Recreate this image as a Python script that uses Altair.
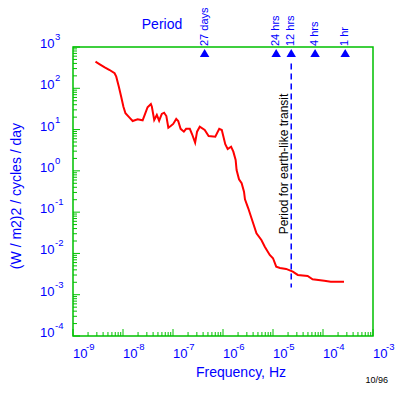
import altair as alt
import pandas as pd

# ---- data ----
freq_hz = [2.82e-9, 3.43e-9, 4.31e-9, 5.41e-9, 6.79e-9, 7.33e-9, 8.26e-9, 9.20e-9,
           1.02e-8, 1.12e-8, 1.35e-8, 1.56e-8, 1.96e-8, 2.47e-8, 2.79e-8, 3.10e-8,
           3.61e-8, 3.78e-8, 4.21e-8, 4.75e-8, 5.28e-8, 5.97e-8, 6.64e-8, 7.36e-8,
           8.07e-8, 8.99e-8, 1.01e-7, 1.16e-7, 1.27e-7, 1.42e-7, 1.65e-7, 1.83e-7,
           2.17e-7, 2.41e-7, 2.77e-7, 3.03e-7, 3.43e-7, 4.31e-7, 5.16e-7, 7.01e-7,
           8.41e-7, 9.46e-7, 1.11e-6, 1.24e-6, 1.45e-6, 1.61e-6, 1.79e-6, 1.87e-6,
           2.09e-6, 2.36e-6, 2.63e-6, 2.75e-6, 3.20e-6, 3.72e-6, 4.67e-6, 5.86e-6,
           6.85e-6, 8.61e-6, 1.00e-5, 1.16e-5, 1.38e-5, 1.83e-5, 2.49e-5, 3.13e-5,
           4.93e-5, 6.19e-5, 1.06e-4, 1.43e-4, 2.63e-4]
power = [441, 381, 322, 277, 231, 191, 109, 62.7,
         35.8, 24.8, 19.4, 16.1, 17.7, 16.8, 24.8, 34.7,
         41.7, 35.8, 17.1, 22.6, 16.4, 23.9, 25.6, 21.3,
         11.1, 12.2, 13.7, 18.1, 16.1, 10.4, 8.89, 10.4,
         10.4, 7.69, 4.82, 8.89, 11.7, 9.77, 7.00, 6.73,
         10.4, 9.77, 4.41, 3.39, 3.85, 2.92, 1.84, 1.05,
         0.627, 0.501, 0.313, 0.205, 0.124, 0.0711, 0.0308, 0.0212,
         0.0146, 0.00920, 0.00766, 0.00479, 0.00446, 0.00422, 0.00362, 0.00301,
         0.00285, 0.00237, 0.00219, 0.00207, 0.00207]

period_labels = ["27 days", "24 hrs", "12 hrs", "4 hrs", "1 hr"]
period_freq = [4.29e-7, 1.157e-5, 2.315e-5, 6.94e-5, 2.78e-4]

transit_freq = [2.315e-5]
transit_top = [400]
transit_bottom = [0.0015]
transit_label = "Period for earth-like transit"

x_exponents = [-9, -8, -7, -6, -5, -4, -3]
y_exponents = [-4, -3, -2, -1, 0, 1, 2, 3]
minor_mult = [2, 3, 4, 5, 6, 7, 8, 9]

x_title = "Frequency, Hz"
y_title = "(W / m2)2 / cycles / day"
top_title = "Period"
date_note = "10/96"

# ---- styling ----
W, H = 300, 289
FONT = "Liberation Sans"
BLUE = "#0000ff"
RED = "#ff0000"
GREEN = "#00c000"

xscale = alt.Scale(type="log", domain=[1e-9, 1e-3])
yscale = alt.Scale(type="log", domain=[1e-4, 1e3])

df = pd.DataFrame({"f": freq_hz, "p": power})
xdec = pd.DataFrame({"v": [10.0 ** e for e in x_exponents],
                     "base": ["10"] * len(x_exponents),
                     "exp": [str(e) for e in x_exponents]})
ydec = pd.DataFrame({"v": [10.0 ** e for e in y_exponents],
                     "base": ["10"] * len(y_exponents),
                     "exp": [str(e) for e in y_exponents]})
xminor = pd.DataFrame({"v": [m * 10.0 ** e for e in x_exponents[:-1] for m in minor_mult]})
yminor = pd.DataFrame({"v": [m * 10.0 ** e for e in y_exponents[:-1] for m in minor_mult]})
periods = pd.DataFrame({"f": period_freq, "label": period_labels})
transit = pd.DataFrame({"f": transit_freq, "top": transit_top, "bottom": transit_bottom})
one = pd.DataFrame({"k": [0]})

line = alt.Chart(df).mark_line(color=RED, strokeWidth=2).encode(
    x=alt.X("f:Q", scale=xscale, axis=None),
    y=alt.Y("p:Q", scale=yscale, axis=None),
)

def xrule(data, length):
    return alt.Chart(data).mark_rule(color=GREEN, strokeWidth=1).encode(
        x=alt.X("v:Q", scale=xscale, axis=None), y=alt.value(H), y2=alt.value(H - length))

def yrule(data, length):
    return alt.Chart(data).mark_rule(color=GREEN, strokeWidth=1).encode(
        y=alt.Y("v:Q", scale=yscale, axis=None), x=alt.value(0), x2=alt.value(length))

xlab = alt.Chart(xdec).mark_text(font=FONT, fontSize=13, color=BLUE, align="left",
                                 baseline="alphabetic").encode(
    x=alt.X("v:Q", scale=xscale, axis=None), y=alt.value(H + 22), text="base:N")
xexp = alt.Chart(xdec).mark_text(font=FONT, fontSize=9.5, color=BLUE, align="left",
                                 baseline="alphabetic", dx=13).encode(
    x=alt.X("v:Q", scale=xscale, axis=None), y=alt.value(H + 14), text="exp:N")
ylab = alt.Chart(ydec).mark_text(font=FONT, fontSize=13, color=BLUE, align="left",
                                 baseline="alphabetic", dy=1).encode(
    y=alt.Y("v:Q", scale=yscale, axis=None), x=alt.value(-33), text="base:N")
yexp = alt.Chart(ydec).mark_text(font=FONT, fontSize=9.5, color=BLUE, align="left",
                                 baseline="alphabetic", dy=-7).encode(
    y=alt.Y("v:Q", scale=yscale, axis=None), x=alt.value(-18), text="exp:N")

tri = alt.Chart(periods).mark_point(shape="triangle-up", filled=True, size=90,
                                     color=BLUE, opacity=1).encode(
    x=alt.X("f:Q", scale=xscale, axis=None), y=alt.value(6))
plab = alt.Chart(periods).mark_text(font=FONT, fontSize=11, color=BLUE, angle=270,
                                    align="left", baseline="middle").encode(
    x=alt.X("f:Q", scale=xscale, axis=None), y=alt.value(-1), text="label:N")

dash = alt.Chart(transit).mark_rule(color=BLUE, strokeWidth=1.5, strokeDash=[6, 4]).encode(
    x=alt.X("f:Q", scale=xscale, axis=None),
    y=alt.Y("top:Q", scale=yscale, axis=None), y2="bottom:Q")
tlab = alt.Chart(transit).mark_text(font=FONT, fontSize=12, color="black", angle=270,
                                    align="center", baseline="middle", dy=-7).encode(
    x=alt.X("f:Q", scale=xscale, axis=None), y=alt.value(117), text=alt.value(transit_label))

def note_text(text, x, y, size, color, align="center", angle=0, baseline="alphabetic"):
    return alt.Chart(one).mark_text(font=FONT, fontSize=size, color=color, align=align,
                                    baseline=baseline, angle=angle).encode(
        x=alt.value(x), y=alt.value(y), text=alt.value(text))

period_title = note_text(top_title, 89, -18, 14, BLUE)
xtitle = note_text(x_title, 168, 330, 14, BLUE)
ytitle = note_text(y_title, -56, 149, 14, BLUE, angle=270, baseline="middle")
note = note_text(date_note, 315, 336, 9, "black", align="right")

chart = alt.layer(
    xrule(xminor, 4), xrule(xdec, 7), yrule(yminor, 4), yrule(ydec, 7),
    dash, tlab, line, tri, plab, xlab, xexp, ylab, yexp,
    period_title, xtitle, ytitle, note,
).properties(
    width=W, height=H, autosize="none",
    padding={"left": 65, "top": 39, "right": 22, "bottom": 48},
    background="white",
).configure_view(stroke=GREEN, strokeWidth=1.5)

chart.save("out.html", embed_options={"renderer": "svg", "actions": False})
